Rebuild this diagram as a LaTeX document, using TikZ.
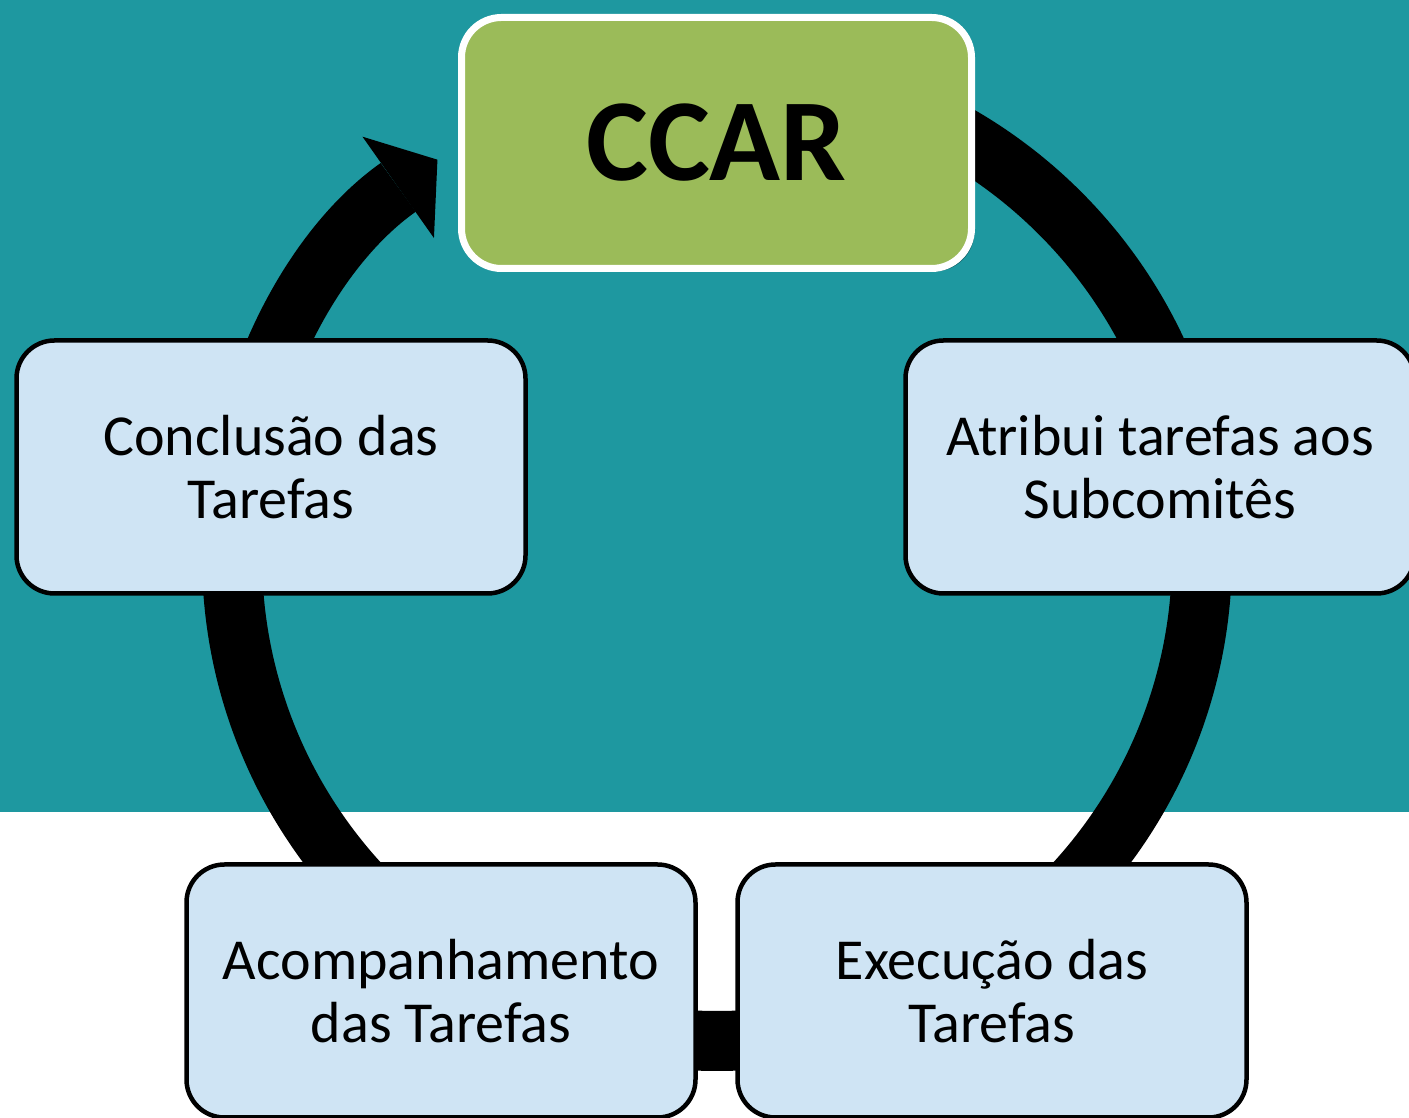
\documentclass[tikz,border=0pt]{standalone}
\usepackage{fontspec}
\setmainfont{Carlito}
\usetikzlibrary{arrows.meta,shadows}
\definecolor{tealbg}{HTML}{1E98A0}
\definecolor{ccargreen}{HTML}{9BBB59}
\definecolor{tasklight}{HTML}{CFE4F4}
\begin{document}
\begin{tikzpicture}[x=1pt, y=1pt,
    mainbox/.style={rectangle, rounded corners=40pt, fill=ccargreen, draw=white,
        line width=7pt, minimum width=510pt, minimum height=251pt, inner sep=0pt,
        drop shadow={shadow xshift=3pt, shadow yshift=-3pt, opacity=0.35, fill=black},
        font=\fontsize{117}{120}\selectfont\bfseries},
    taskbox/.style={rectangle, rounded corners=38pt, fill=tasklight, draw=black,
        line width=4.5pt, minimum width=509pt, minimum height=253pt, inner sep=0pt,
        align=center, font=\fontsize{58}{63}\selectfont},
    ring/.style={line width=60pt, black}]
    \useasboundingbox (0,0) rectangle (1409,1118);
    \clip (0,0) rectangle (1409,1118);

    % Background
    \fill[white] (0,0) rectangle (1409,306);
    \fill[tealbg] (0,306) rectangle (1409,1118);

    % Cycle ring with arrow head
    \coordinate (ringc) at (717,562);
    \draw[ring, -{Triangle[width=124pt, length=48pt, line width=0pt]}]
        (ringc) ++(90:485pt) arc[start angle=90, end angle=-234.8, radius=485pt];

    % Boxes
    \node[mainbox] (ccar) at (716.5,975) {CCAR};
    \node[taskbox] (atrib) at (1160,651) {Atribui tarefas aos\\Subcomitês};
    \node[taskbox] (exec) at (992,127) {Execução das\\Tarefas};
    \node[taskbox] (acomp) at (441,127) {Acompanhamento\\das Tarefas};
    \node[taskbox] (concl) at (271,651) {Conclusão das\\Tarefas};
\end{tikzpicture}
\end{document}
